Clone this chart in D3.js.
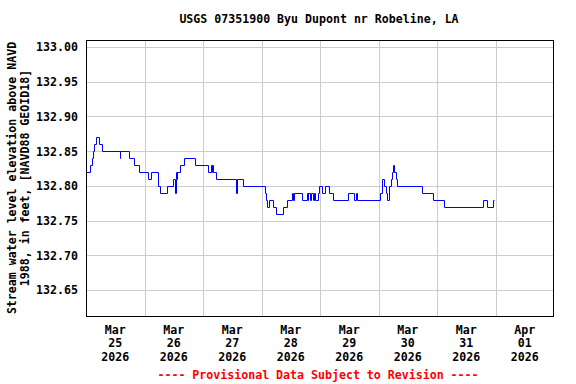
<!DOCTYPE html>
<html><head><meta charset="utf-8">
<script src="https://cdn.jsdelivr.net/npm/d3@7"></script>
<style>
html,body{margin:0;padding:0;background:#fff;}
text{font-family:"DejaVu Sans Mono",monospace;font-weight:bold;}
</style></head>
<body><svg id="c" width="576" height="384"></svg>
<script>
const title = "USGS 07351900 Byu Dupont nr Robeline, LA";
const yLabel1 = "Stream water level elevation above NAVD";
const yLabel2 = "1988, in feet, [NAVD88 GEOID18]";
const footer = "---- Provisional Data Subject to Revision ----";
const yTicks = [132.65, 132.70, 132.75, 132.80, 132.85, 132.90, 132.95, 133.00];
const xTickDays = ["2026-03-25","2026-03-26","2026-03-27","2026-03-28","2026-03-29","2026-03-30","2026-03-31","2026-04-01"];
// step-change readings (time, gage height ft)
const times = [
"2026-03-25 00:00","2026-03-25 01:45","2026-03-25 02:30","2026-03-25 02:45","2026-03-25 03:15","2026-03-25 04:00","2026-03-25 05:30","2026-03-25 06:30",
"2026-03-25 13:45","2026-03-25 14:00","2026-03-25 17:45","2026-03-25 19:45","2026-03-25 21:45",
"2026-03-26 01:30","2026-03-26 02:30","2026-03-26 05:30","2026-03-26 06:15","2026-03-26 09:15","2026-03-26 11:30",
"2026-03-26 12:30","2026-03-26 12:45","2026-03-26 13:00","2026-03-26 13:15","2026-03-26 13:30","2026-03-26 14:45","2026-03-26 16:15","2026-03-26 20:45",
"2026-03-27 02:15","2026-03-27 03:15","2026-03-27 03:30","2026-03-27 03:45","2026-03-27 04:15","2026-03-27 05:15","2026-03-27 13:30","2026-03-27 13:45","2026-03-27 16:30",
"2026-03-28 01:30","2026-03-28 01:45","2026-03-28 02:15","2026-03-28 03:15","2026-03-28 04:45","2026-03-28 06:00","2026-03-28 09:00","2026-03-28 10:30",
"2026-03-28 12:30","2026-03-28 12:45","2026-03-28 13:30","2026-03-28 16:45","2026-03-28 18:30","2026-03-28 19:00","2026-03-28 19:15","2026-03-28 20:00","2026-03-28 20:15",
"2026-03-28 21:15","2026-03-28 21:30","2026-03-28 22:00","2026-03-28 23:00","2026-03-28 23:30",
"2026-03-29 01:00","2026-03-29 02:15","2026-03-29 03:45","2026-03-29 05:30","2026-03-29 11:30","2026-03-29 14:00","2026-03-29 14:45","2026-03-29 15:00",
"2026-03-30 00:30","2026-03-30 01:15","2026-03-30 02:15","2026-03-30 03:00","2026-03-30 03:30","2026-03-30 04:30","2026-03-30 05:00","2026-03-30 05:30","2026-03-30 06:00","2026-03-30 06:30","2026-03-30 07:15","2026-03-30 07:45",
"2026-03-30 18:00","2026-03-30 22:30",
"2026-03-31 03:00","2026-03-31 19:00","2026-03-31 20:30","2026-03-31 23:00","2026-03-31 23:15"
];
const values = [
132.82,132.83,132.84,132.85,132.86,132.87,132.86,132.85,
132.84,132.85,132.84,132.83,132.82,
132.81,132.82,132.80,132.79,132.80,132.81,
132.79,132.81,132.82,132.81,132.82,132.83,132.84,132.83,
132.82,132.83,132.82,132.83,132.82,132.81,132.79,132.81,132.80,
132.79,132.78,132.77,132.78,132.77,132.76,132.77,132.78,
132.79,132.78,132.79,132.78,132.79,132.78,132.79,132.78,132.79,
132.78,132.79,132.78,132.79,132.80,
132.79,132.80,132.79,132.78,132.79,132.78,132.79,132.78,
132.79,132.81,132.80,132.79,132.78,132.80,132.81,132.82,132.83,132.82,132.81,132.80,
132.79,132.78,
132.77,132.78,132.77,132.78,132.78
];

const parse = d3.utcParse("%Y-%m-%d %H:%M");
const parseDay = d3.utcParse("%Y-%m-%d");
const data = times.map((t,i)=>({t:parse(t), v:values[i]}));

const L=86, R=554, T=40, B=316;
const x = d3.scaleUtc().domain([parseDay("2026-03-25"), parseDay("2026-04-02")]).range([L,R]);
const y = d3.scaleLinear().domain([132.6125, 133.01]).range([B,T]);

const svg = d3.select("#c");
const px = v => Math.round(v)+0.5;

// grid
svg.append("g").selectAll("line.h").data(yTicks).join("line")
  .attr("x1",L).attr("x2",R).attr("y1",d=>px(y(d))).attr("y2",d=>px(y(d)))
  .attr("stroke","#cccccc").attr("stroke-width",1);
const days = xTickDays.map(parseDay).concat([parseDay("2026-04-02")]);
svg.append("g").selectAll("line.v").data(days.slice(1,-1)).join("line")
  .attr("y1",T).attr("y2",B).attr("x1",d=>px(x(d))).attr("x2",d=>px(x(d)))
  .attr("stroke","#cccccc").attr("stroke-width",1);

// data line
const line = d3.line().x(d=>px(x(d.t))).y(d=>px(y(d.v))).curve(d3.curveStepAfter);
svg.append("path").datum(data).attr("d",line).attr("fill","none")
  .attr("stroke","#0000ff").attr("stroke-width",1);

// frame
svg.append("rect").attr("x",L+0.5).attr("y",T+0.5).attr("width",R-L-1).attr("height",B-T)
  .attr("fill","none").attr("stroke","#000").attr("stroke-width",1);

// y tick labels
svg.append("g").selectAll("text").data(yTicks).join("text")
  .attr("x",78).attr("y",d=>y(d)+4.5).attr("text-anchor","end")
  .attr("font-size","11.6px").text(d=>d.toFixed(2));

// x tick labels
const fmtM = d3.utcFormat("%b"), fmtD = d3.utcFormat("%d"), fmtY = d3.utcFormat("%Y");
const xg = svg.append("g").selectAll("text").data(xTickDays.map(parseDay)).join("text")
  .attr("text-anchor","middle").attr("font-size","11.6px");
xg.each(function(d){
  const cx = x(d3.utcHour.offset(d,12));
  const t = d3.select(this);
  [fmtM(d),fmtD(d),fmtY(d)].forEach((s,i)=>{
    t.append("tspan").attr("x",cx).attr("y",334+i*13.3).text(s);
  });
});

// title
svg.append("text").attr("x",319).attr("y",23).attr("text-anchor","middle")
  .attr("font-size","11.6px").text(title);

// y label
const yl = svg.append("text").attr("transform","translate(0,178) rotate(-90)")
  .attr("text-anchor","middle").attr("font-size","11.6px");
yl.append("tspan").attr("x",0).attr("y",16).text(yLabel1);
yl.append("tspan").attr("x",0).attr("y",29).text(yLabel2);

// footer
svg.append("text").attr("x",318).attr("y",378.5).attr("text-anchor","middle")
  .attr("font-size","11.6px").attr("fill","#ff0000").text(footer);
</script></body></html>
